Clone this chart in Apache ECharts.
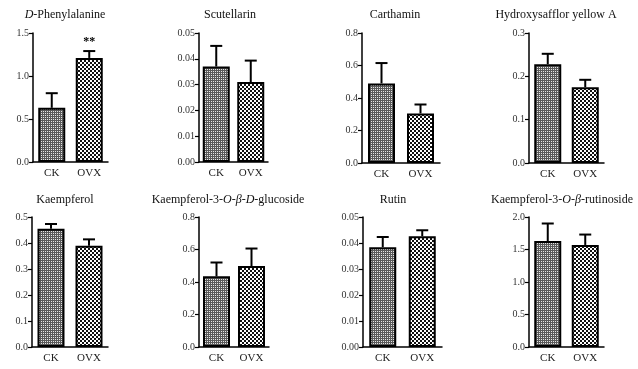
<!DOCTYPE html>
<html>
<head>
<meta charset="utf-8">
<script src="https://cdn.jsdelivr.net/npm/echarts@6/dist/echarts.min.js"></script>
<style>
  html, body { margin: 0; padding: 0; background: #fff; }
  #chart { width: 638px; height: 369px; }
</style>
</head>
<body>
<div id="chart"></div>
<script>
// panel data
const groups = ['CK', 'OVX']
const titles = [
  '{i|D}-Phenylalanine', 'Scutellarin', 'Carthamin', 'Hydroxysafflor yellow A',
  'Kaempferol', 'Kaempferol-3-{i|O}-{i|β}-{i|D}-glucoside', 'Rutin', 'Kaempferol-3-{i|O}-{i|β}-rutinoside'
]
const ckMean = [0.63, 0.037, 0.49, 0.228, 0.455, 0.435, 0.0384, 1.63]
const ckErr = [0.17, 0.008, 0.125, 0.024, 0.018, 0.085, 0.0039, 0.27]
const ovxMean = [1.21, 0.031, 0.305, 0.175, 0.389, 0.498, 0.0426, 1.57]
const ovxErr = [0.08, 0.0083, 0.055, 0.017, 0.025, 0.108, 0.0023, 0.16]
const sigOvx = ['**', '', '', '', '', '', '', '']
const yMax = [1.5, 0.05, 0.8, 0.3, 0.5, 0.8, 0.05, 2.0]
const yStep = [0.5, 0.01, 0.2, 0.1, 0.1, 0.2, 0.01, 0.5]
const yDecimals = [1, 2, 1, 1, 1, 1, 2, 1]

// layout of each panel (px)
const gridLeft = [33, 199, 362, 529, 32, 199, 363, 529]
const gridWidth = [75, 69, 78, 75, 76, 70, 79, 75]
const gridTop = [33, 33, 33, 33, 217, 217, 217, 217]
const gridHeight = [129, 129, 130, 130, 130, 130, 130, 130]
const titleX = [65, 230, 395, 556, 65, 228, 393, 562]
const titleY = [15, 15, 15, 15, 200, 200, 200, 200]

const FONT = '"Liberation Serif", "DejaVu Serif", serif'

function makePattern(size, draw) {
  const c = document.createElement('canvas')
  c.width = size
  c.height = size
  const ctx = c.getContext('2d')
  draw(ctx)
  return { image: c, repeat: 'repeat' }
}

// fine grey check for CK
const ckFill = makePattern(2, ctx => {
  ctx.fillStyle = '#5a5a5a'
  ctx.fillRect(0, 0, 2, 2)
  ctx.fillStyle = '#e6e6e6'
  ctx.fillRect(1, 1, 1, 1)
})
// coarse black/white check for OVX
const ovxFill = makePattern(4, ctx => {
  ctx.fillStyle = '#fff'
  ctx.fillRect(0, 0, 4, 4)
  ctx.fillStyle = '#111'
  ctx.fillRect(0, 0, 2, 2)
  ctx.fillRect(2, 2, 2, 2)
})

const chart = echarts.init(document.getElementById('chart'))

const grid = [], xAxis = [], yAxis = [], series = [], graphic = []

titles.forEach((t, i) => {
  grid.push({ left: gridLeft[i], top: gridTop[i], width: gridWidth[i], height: gridHeight[i] })
  xAxis.push({
    type: 'category',
    gridIndex: i,
    data: groups,
    axisLine: { lineStyle: { color: '#000', width: 1.5 } },
    axisTick: { alignWithLabel: true, length: 4, lineStyle: { color: '#000', width: 1.2 } },
    axisLabel: { color: '#222', fontFamily: FONT, fontSize: 11, margin: 6 }
  })
  yAxis.push({
    type: 'value',
    gridIndex: i,
    min: 0,
    max: yMax[i],
    interval: yStep[i],
    splitLine: { show: false },
    axisLine: { show: true, lineStyle: { color: '#000', width: 1.5 } },
    axisTick: { show: true, length: 4, lineStyle: { color: '#000', width: 1.2 } },
    axisLabel: {
      color: '#333',
      fontFamily: FONT,
      fontSize: 10,
      margin: 4,
      formatter: v => v.toFixed(yDecimals[i])
    }
  })
  series.push({
    type: 'bar',
    xAxisIndex: i,
    yAxisIndex: i,
    barWidth: 27,
    data: [
      { value: ckMean[i], itemStyle: { color: ckFill } },
      { value: ovxMean[i], itemStyle: { color: ovxFill } }
    ],
    itemStyle: { borderColor: '#000', borderWidth: 2 },
    silent: true
  })
  series.push({
    type: 'custom',
    xAxisIndex: i,
    yAxisIndex: i,
    z: 5,
    silent: true,
    encode: { x: 0, y: 1 },
    data: [
      [0, ckMean[i], ckErr[i], ''],
      [1, ovxMean[i], ovxErr[i], sigOvx[i]]
    ],
    renderItem: (params, api) => {
      const idx = api.value(0)
      const m = api.value(1)
      const e = api.value(2)
      const p0 = api.coord([idx, m])
      const p1 = api.coord([idx, m + e])
      const children = [
        { type: 'line', shape: { x1: p0[0], y1: p0[1], x2: p1[0], y2: p1[1] }, style: { stroke: '#000', lineWidth: 2 } },
        { type: 'line', shape: { x1: p1[0] - 6, y1: p1[1], x2: p1[0] + 6, y2: p1[1] }, style: { stroke: '#000', lineWidth: 2 } }
      ]
      const sig = params.dataIndex === 1 ? sigOvx[i] : ''
      if (sig) {
        children.push({
          type: 'text',
          x: p1[0],
          y: p1[1] - 3,
          style: { text: sig, fontFamily: FONT, fontSize: 12, fontWeight: 'bold', fill: '#000', align: 'center', verticalAlign: 'bottom' }
        })
      }
      return { type: 'group', children }
    }
  })
  graphic.push({
    type: 'text',
    x: titleX[i],
    y: titleY[i],
    style: {
      text: t,
      fontFamily: FONT,
      fontSize: 12,
      fill: '#111',
      align: 'center',
      verticalAlign: 'middle',
      rich: { i: { fontStyle: 'italic', fontFamily: FONT, fontSize: 12, fill: '#111' } }
    }
  })
})

chart.setOption({
  animation: false,
  backgroundColor: '#fff',
  grid,
  xAxis,
  yAxis,
  series,
  graphic
})
</script>
</body>
</html>
